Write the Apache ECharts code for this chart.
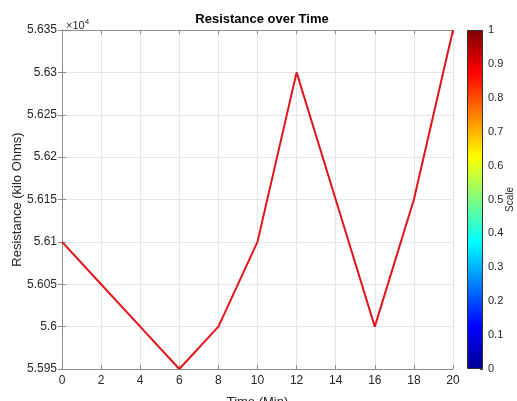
<!DOCTYPE html>
<html>
<head>
<meta charset="utf-8">
<script src="https://cdn.jsdelivr.net/npm/echarts@6/dist/echarts.min.js"></script>
<style>
  html, body { margin: 0; padding: 0; background: #fff; }
  #main { width: 517px; height: 401px; }
</style>
</head>
<body>
<div id="main"></div>
<script>
// time in minutes, resistance in kilo ohms
var times = [0, 2, 4, 6, 8, 10, 12, 14, 16, 18, 20];
var resistance = [56100, 56050, 56000, 55950, 56000, 56100, 56300, 56150, 56000, 56150, 56350];
var scaleStops = [0, 0.125, 0.375, 0.625, 0.875, 1];
var jetColors = ['#00008f', '#0000ff', '#00ffff', '#ffff00', '#ff0000', '#800000'];

var font = 'Liberation Sans, Arial, sans-serif';
var textCol = '#262626';
var axisCol = '#8c8c8c';

var points = times.map(function (t, i) { return [t, resistance[i]]; });

var myChart = echarts.init(document.getElementById('main'));
var yMin = 55950, yMax = 56350, yStep = 50;

myChart.setOption({
  animation: false,
  textStyle: { fontFamily: font },
  title: [
    {
      text: 'Resistance over Time',
      left: 257, top: 8, textAlign: 'center',
      textStyle: { fontSize: 13, fontWeight: 'bold', color: '#000', fontFamily: font }
    },
    {
      text: '×10{sup|4}',
      left: 61, top: 13,
      textStyle: {
        fontSize: 11, color: textCol, fontWeight: 'normal', fontFamily: font,
        rich: { sup: { fontSize: 8, verticalAlign: 'top', padding: [0, 0, 8, 0], color: textCol } }
      }
    }
  ],
  grid: [
    { left: 62, top: 30, width: 391, height: 339, outerBoundsMode: 'none', containLabel: false },
    { left: 467, top: 30, width: 16, height: 339, outerBoundsMode: 'none', containLabel: false }
  ],
  xAxis: [
    {
      gridIndex: 0, type: 'value', min: 0, max: 20, interval: 2,
      name: 'Time (Min)', nameLocation: 'middle', nameGap: 27,
      nameTextStyle: { fontSize: 13, color: textCol },
      axisLine: { onZero: false, lineStyle: { color: axisCol } },
      axisTick: { inside: true, length: 4, lineStyle: { color: axisCol } },
      axisLabel: { fontSize: 12, color: textCol, margin: 6 },
      splitLine: { show: true, lineStyle: { color: '#e6e6e6' } }
    },
    {
      gridIndex: 0, type: 'value', min: 0, max: 20, interval: 2, position: 'top',
      axisLine: { show: true, lineStyle: { color: axisCol } },
      axisTick: { show: true, inside: true, length: 4, lineStyle: { color: axisCol } },
      axisLabel: { show: false }, splitLine: { show: false }
    },
    {
      gridIndex: 1, type: 'category', data: ['s'],
      axisLine: { show: false }, axisTick: { show: false }, axisLabel: { show: false }
    }
  ],
  yAxis: [
    {
      gridIndex: 0, type: 'value', min: yMin, max: yMax, interval: yStep,
      name: 'Resistance (kilo Ohms)', nameLocation: 'middle', nameGap: 38, nameRotate: 90,
      nameMoveOverlap: false,
      nameTextStyle: { fontSize: 13, color: textCol },
      axisLine: { show: true, lineStyle: { color: axisCol } },
      axisTick: { show: true, inside: true, length: 4, lineStyle: { color: axisCol } },
      axisLabel: {
        fontSize: 12, color: textCol, margin: 5,
        formatter: function (v) { return String(+(v / 10000).toFixed(4)); }
      },
      splitLine: { show: true, lineStyle: { color: '#e6e6e6' } }
    },
    {
      gridIndex: 0, type: 'value', min: yMin, max: yMax, interval: yStep, position: 'right',
      axisLine: { show: true, lineStyle: { color: axisCol } },
      axisTick: { show: true, inside: true, length: 4, lineStyle: { color: axisCol } },
      axisLabel: { show: false }, splitLine: { show: false }
    },
    {
      gridIndex: 1, type: 'value', min: 0, max: 1, interval: 0.1, position: 'right',
      name: 'Scale', nameLocation: 'middle', nameGap: 22, nameRotate: 90,
      nameMoveOverlap: false,
      nameTextStyle: { fontSize: 10, color: textCol },
      axisLine: { show: false },
      axisTick: { show: true, inside: true, length: 3, lineStyle: { color: '#444' } },
      axisLabel: { fontSize: 11, color: textCol, margin: 5 },
      splitLine: { show: false }
    }
  ],
  series: [
    {
      type: 'line', xAxisIndex: 0, yAxisIndex: 0,
      data: points, showSymbol: false,
      lineStyle: { color: '#e0151b', width: 2 }
    },
    {
      type: 'bar', xAxisIndex: 2, yAxisIndex: 2,
      data: [1], barWidth: '100%', z: 1,
      itemStyle: {
        borderColor: '#333', borderWidth: 1,
        color: new echarts.graphic.LinearGradient(0, 1, 0, 0,
          scaleStops.map(function (s, i) { return { offset: s, color: jetColors[i] }; }))
      }
    }
  ]
});
</script>
</body>
</html>
